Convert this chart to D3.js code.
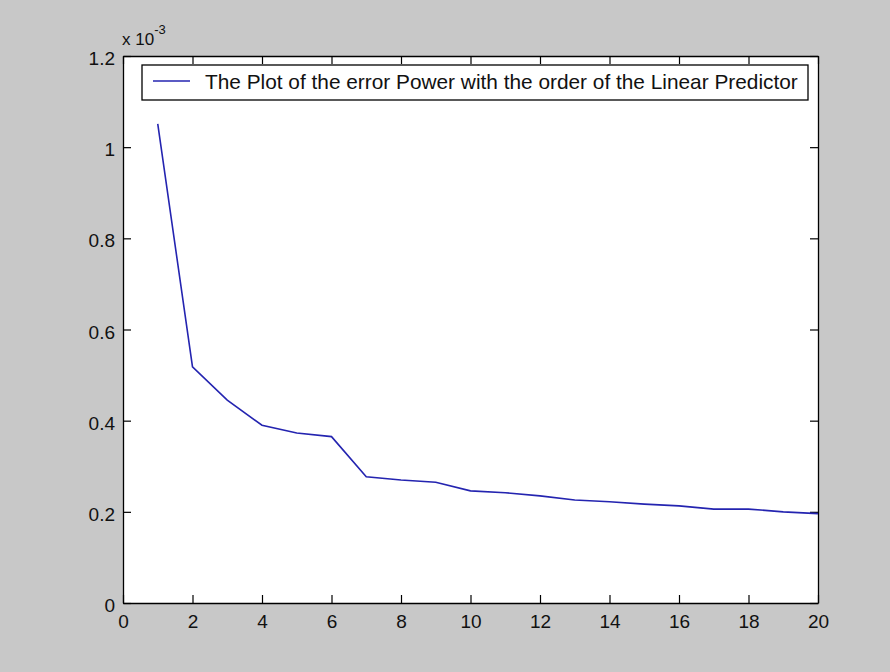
<!DOCTYPE html>
<html>
<head>
<meta charset="utf-8">
<script src="https://cdn.jsdelivr.net/npm/d3@7"></script>
<style>
html,body{margin:0;padding:0;background:#c8c8c8;}
svg{display:block;}
text{font-family:"Liberation Sans",Arial,sans-serif;fill:#111;}
</style>
</head>
<body>
<svg id="chart" width="890" height="672"></svg>
<script>
const order = [1,2,3,4,5,6,7,8,9,10,11,12,13,14,15,16,17,18,19,20];
const errorPower = [1.051,0.518,0.445,0.390,0.373,0.365,0.277,0.270,0.265,0.246,0.242,0.235,0.226,0.222,0.217,0.213,0.206,0.206,0.200,0.196]; // x 1e-3
const xTicks = [0,2,4,6,8,10,12,14,16,18,20];
const yTicks = [0,0.2,0.4,0.6,0.8,1,1.2];
const yTickLabels = ["0","0.2","0.4","0.6","0.8","1","1.2"];
const legendLabel = "The Plot of the error Power with the order of the Linear Predictor";

const svg = d3.select("#chart");
const L = 123, R = 818, T = 56, B = 603;
const x = d3.scaleLinear().domain([0,20]).range([L,R]);
const y = d3.scaleLinear().domain([0,1.2]).range([B,T]);

svg.append("rect").attr("width",890).attr("height",672).attr("fill","#c8c8c8");
svg.append("rect").attr("x",L).attr("y",T).attr("width",R-L).attr("height",B-T).attr("fill","#fff");

const tickLen = 8;
const FS = 19;
const gx = svg.append("g").attr("transform",`translate(0,${B})`)
  .call(d3.axisBottom(x).tickValues(xTicks).tickSizeInner(-tickLen).tickSizeOuter(0).tickFormat(d3.format("d")));
const gxt = svg.append("g").attr("transform",`translate(0,${T})`)
  .call(d3.axisTop(x).tickValues(xTicks).tickSizeInner(-tickLen).tickSizeOuter(0).tickFormat(""));
const gy = svg.append("g").attr("transform",`translate(${L},0)`)
  .call(d3.axisLeft(y).tickValues(yTicks).tickSizeInner(-tickLen).tickSizeOuter(0).tickPadding(8).tickFormat((d,i)=>yTickLabels[i]));
const gyr = svg.append("g").attr("transform",`translate(${R},0)`)
  .call(d3.axisRight(y).tickValues(yTicks).tickSizeInner(-tickLen).tickSizeOuter(0).tickFormat(""));

[gx,gxt,gy,gyr].forEach(g=>{
  g.select(".domain").attr("stroke","#000").attr("stroke-width",1.3);
  g.selectAll(".tick line").attr("stroke","#000").attr("stroke-width",1.2);
  g.selectAll("text").attr("font-family","Liberation Sans, Arial, sans-serif").attr("font-size",FS).attr("fill","#1a1a1a");
});
gx.selectAll("text").attr("dy",null).attr("y",25);
gy.selectAll("text").attr("dy","0.45em");

// exponent label
const exp = svg.append("text").attr("x",122).attr("y",45).attr("font-size",17).attr("fill","#1a1a1a");
exp.append("tspan").text("x 10");
exp.append("tspan").attr("dy",-11).attr("font-size",13).text("-3");

// line
const line = d3.line().x((d,i)=>x(order[i])).y(d=>y(d));
svg.append("path").datum(errorPower).attr("d",line)
  .attr("fill","none").attr("stroke","#2424b0").attr("stroke-width",1.6);

// legend
const lg = svg.append("g");
lg.append("rect").attr("x",142).attr("y",65).attr("width",808-142).attr("height",35)
  .attr("fill","#fff").attr("stroke","#000").attr("stroke-width",1.3);
lg.append("line").attr("x1",153).attr("x2",190).attr("y1",81).attr("y2",81)
  .attr("stroke","#2424b0").attr("stroke-width",1.6);
const lt = lg.append("text").attr("x",205).attr("y",81).attr("dy","0.36em").attr("font-size",16).attr("fill","#1a1a1a").text(legendLabel);
const w = lt.node().getComputedTextLength();
const target = 798-205;
lt.attr("font-size", 16*target/w);
</script>
</body>
</html>
